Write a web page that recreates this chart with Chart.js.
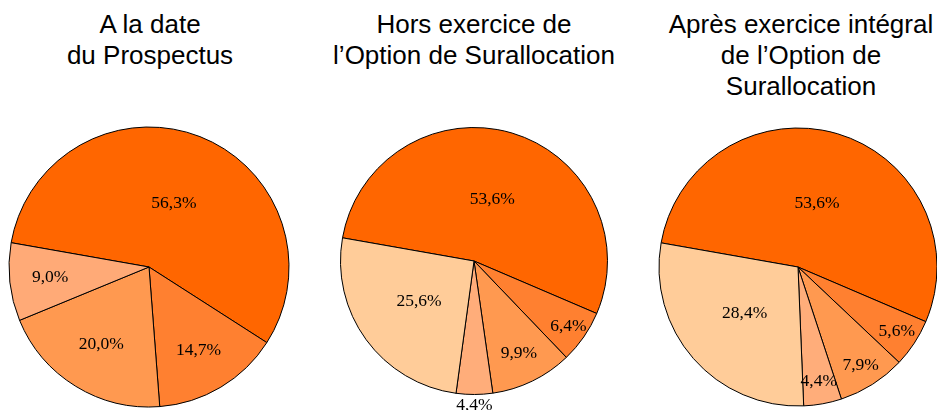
<!DOCTYPE html>
<html>
<head>
<meta charset="utf-8">
<script src="https://cdn.jsdelivr.net/npm/chart.js@4/dist/chart.umd.min.js"></script>
<style>
  html, body { margin: 0; padding: 0; background: #fff; }
  body { width: 937px; height: 410px; overflow: hidden; position: relative; }
  .title {
    position: absolute; top: 9px; width: 320px; text-align: center;
    font-family: "Liberation Sans", Arial, sans-serif; font-size: 26px; line-height: 31px; color: #000;
  }
  .pie { position: absolute; width: 300px; height: 300px; }
</style>
</head>
<body>
<div class="title" style="left:-10px">A la date<br>du Prospectus</div>
<div class="title" style="left:314px">Hors exercice de<br>l’Option de Surallocation</div>
<div class="title" style="left:641px">Après exercice intégral<br>de l’Option de<br>Surallocation</div>

<div class="pie" style="left:-1px; top:117px"><canvas id="pie1"></canvas></div>
<div class="pie" style="left:324px; top:111px"><canvas id="pie2"></canvas></div>
<div class="pie" style="left:648px; top:117px"><canvas id="pie3"></canvas></div>

<script>
// shares (%) read clockwise from the upper-left boundary
const sharesProspectus = [56.3, 14.7, 20.0, 9.0];
const sharesHorsOption = [53.6, 6.4, 9.9, 4.4, 25.6];
const sharesApresOption = [53.6, 5.6, 7.9, 4.4, 28.4];

const colorsProspectus = ['#FF6600', '#FF8030', '#FF9950', '#FFAA77'];
const colorsOption = ['#FF6600', '#FF8030', '#FF9950', '#FFAD7A', '#FFCC99'];

const fmt = v => v.toFixed(1).replace('.', ',') + '%';

// draws the percentage inside each slice at a given fraction of the radius
const sliceLabels = {
  id: 'sliceLabels',
  afterDatasetsDraw(chart, args, opts) {
    const ctx = chart.ctx;
    const meta = chart.getDatasetMeta(0);
    const values = chart.data.datasets[0].data;
    ctx.save();
    ctx.font = '17.5px "Liberation Serif", "Times New Roman", serif';
    ctx.fillStyle = '#000';
    ctx.textAlign = 'center';
    ctx.textBaseline = 'middle';
    meta.data.forEach((arc, i) => {
      const p = arc.getProps(['x', 'y', 'startAngle', 'endAngle', 'outerRadius'], true);
      const mid = (p.startAngle + p.endAngle) / 2;
      const r = p.outerRadius * opts.radii[i];
      ctx.fillText(fmt(values[i]), p.x + Math.cos(mid) * r, p.y + Math.sin(mid) * r);
    });
    ctx.restore();
  }
};

function makePie(id, values, colors, radius, radii) {
  new Chart(document.getElementById(id), {
    type: 'pie',
    data: {
      labels: values.map(fmt),
      datasets: [{
        data: values,
        backgroundColor: colors,
        borderColor: '#000',
        borderWidth: 1
      }]
    },
    options: {
      responsive: true,
      maintainAspectRatio: false,
      animation: false,
      rotation: 280,
      radius: radius,
      layout: { padding: 0 },
      plugins: {
        legend: { display: false },
        tooltip: { enabled: false },
        sliceLabels: { radii: radii }
      }
    },
    plugins: [sliceLabels]
  });
}

makePie('pie1', sharesProspectus, colorsProspectus, 140, [0.49, 0.69, 0.65, 0.71]);
makePie('pie2', sharesHorsOption, colorsOption, 133.5, [0.48, 0.86, 0.77, 1.08, 0.51]);
makePie('pie3', sharesApresOption, colorsOption, 139, [0.48, 0.85, 0.84, 0.84, 0.51]);
</script>
</body>
</html>
